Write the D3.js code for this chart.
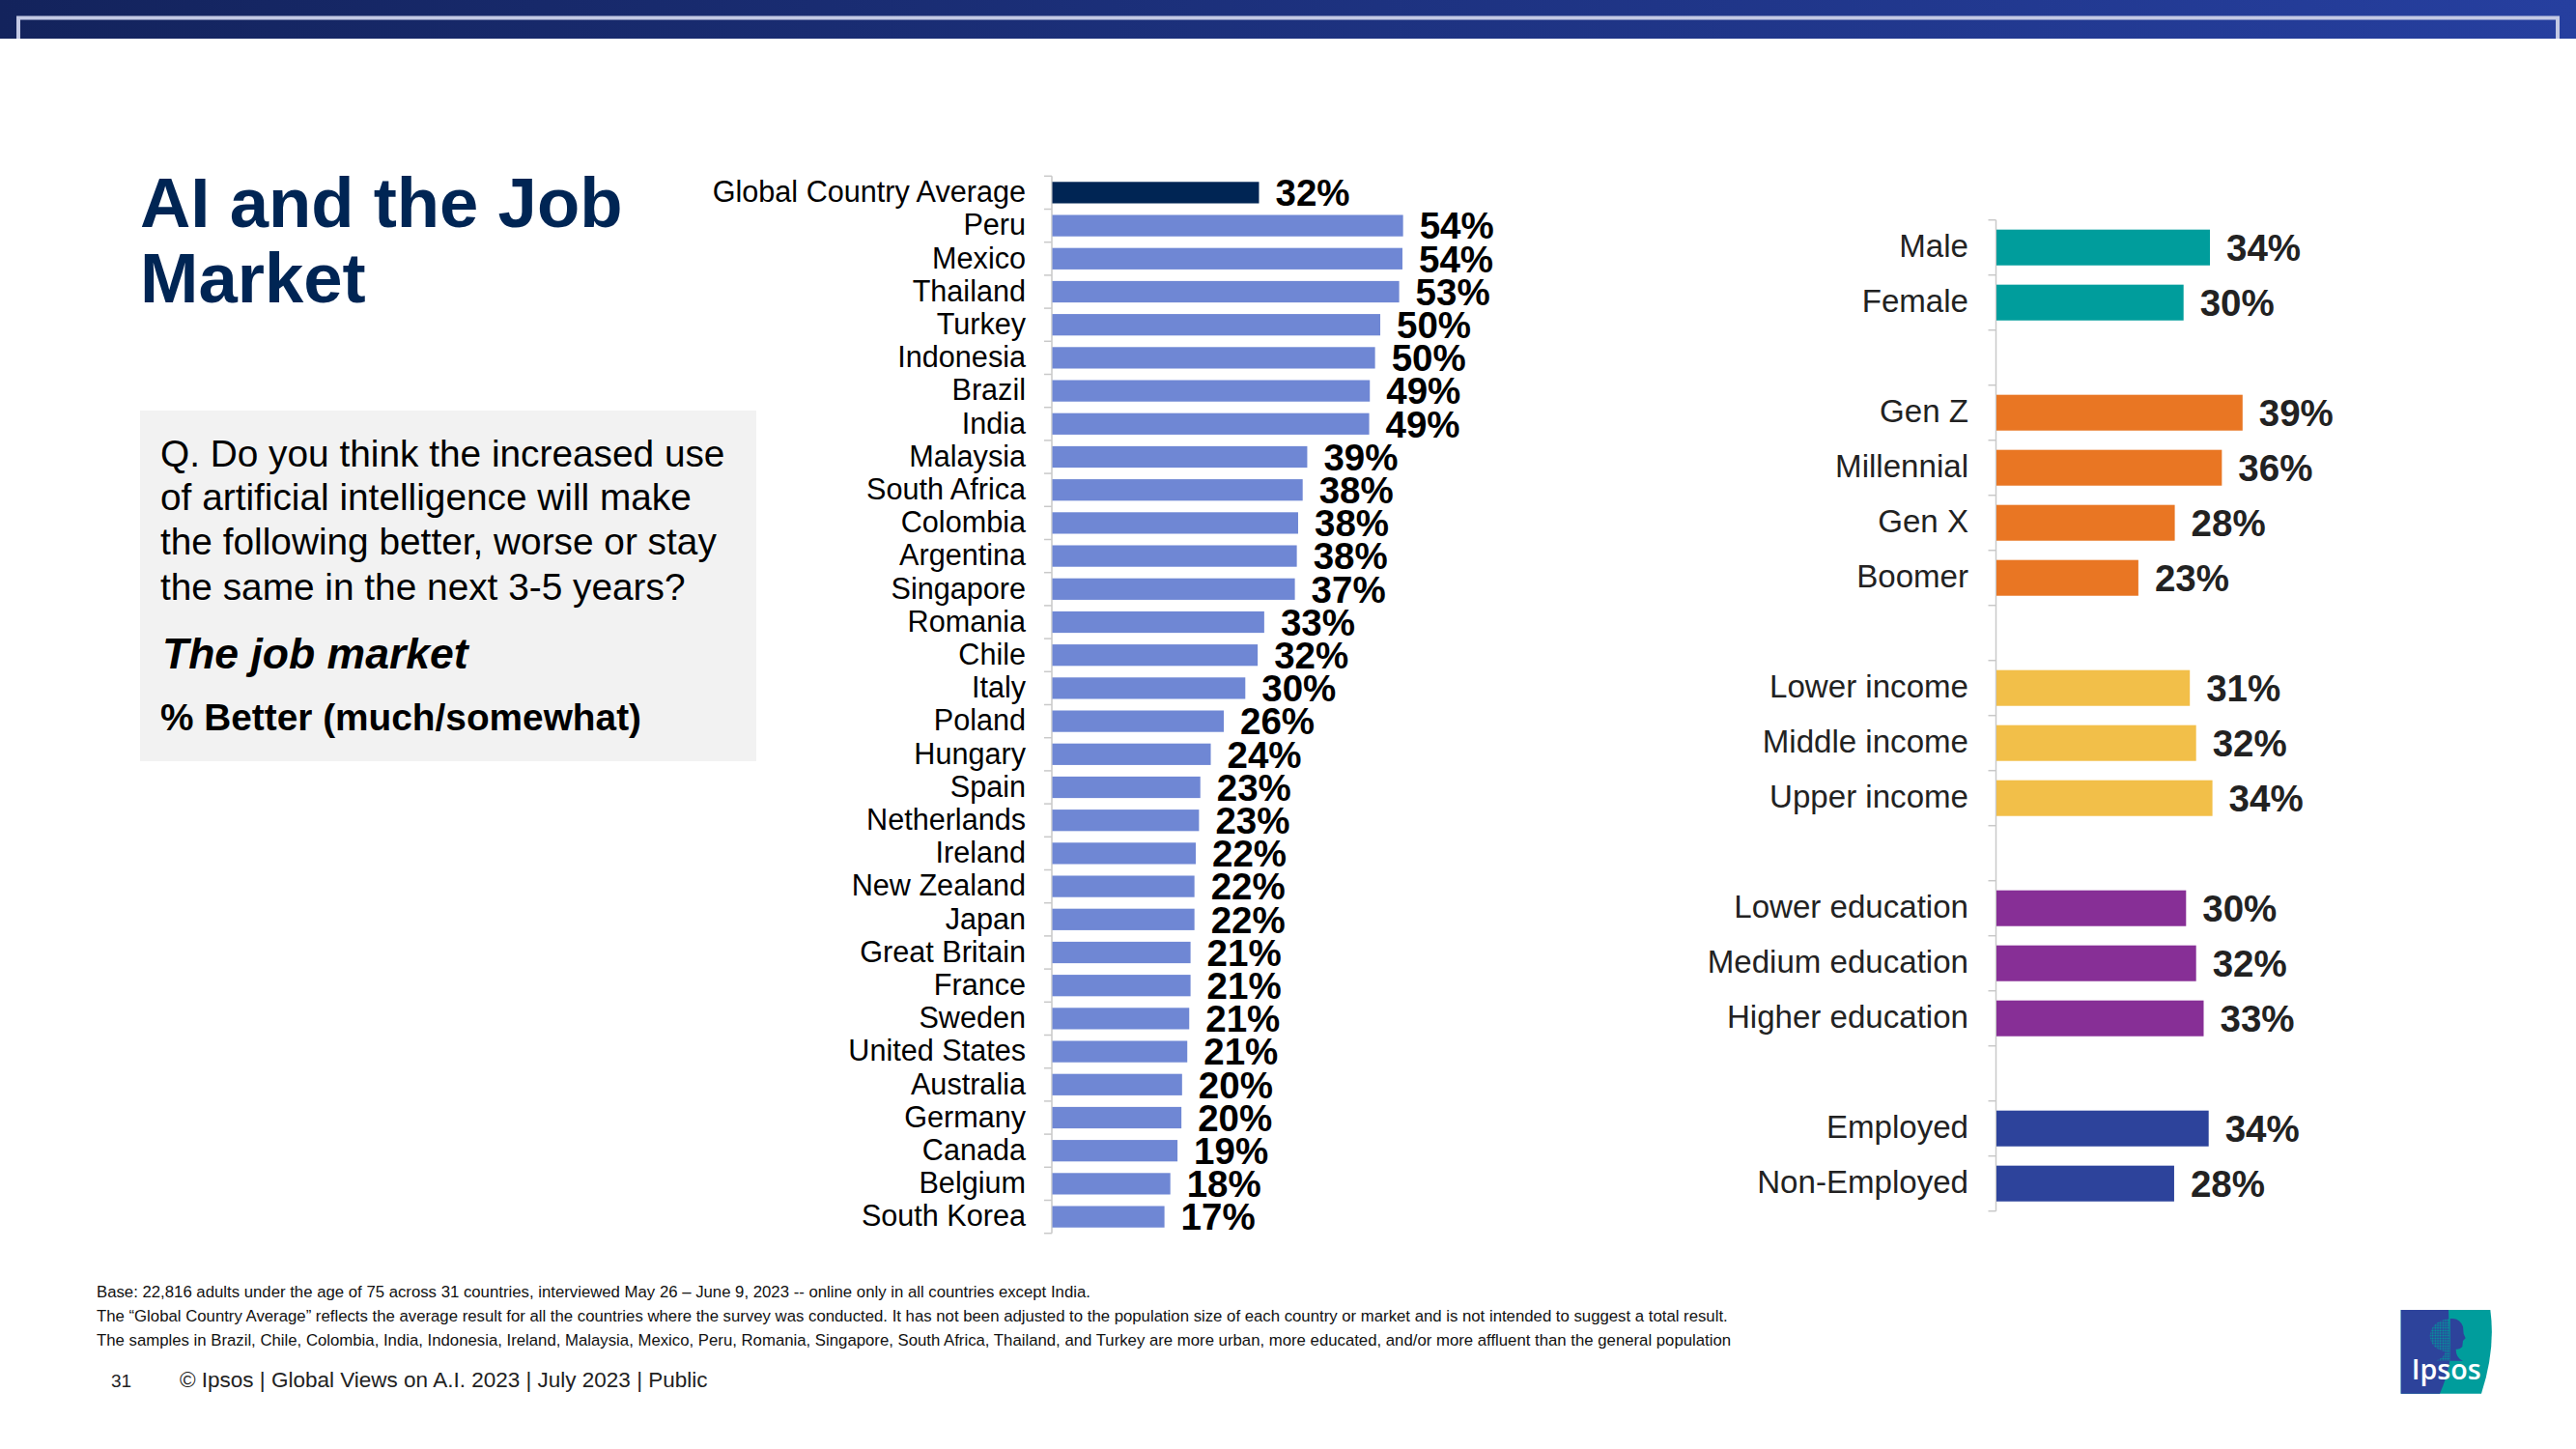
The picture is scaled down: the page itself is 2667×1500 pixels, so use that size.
<!DOCTYPE html>
<html>
<head>
<meta charset="utf-8">
<script src="https://cdn.jsdelivr.net/npm/d3@7"></script>
<style>
  html, body { margin: 0; padding: 0; background: #fff; }
  svg { display: block; }
  text { font-family: "Liberation Sans", Arial, sans-serif; }
</style>
</head>
<body>
<div id="chart"></div>
<script>
// data
var countries = ["Global Country Average", "Peru", "Mexico", "Thailand", "Turkey", "Indonesia", "Brazil", "India",
    "Malaysia", "South Africa", "Colombia", "Argentina", "Singapore", "Romania", "Chile", "Italy", "Poland", "Hungary",
    "Spain", "Netherlands", "Ireland", "New Zealand", "Japan", "Great Britain", "France", "Sweden", "United States",
    "Australia", "Germany", "Canada", "Belgium", "South Korea"];
var countryValues = [31.7, 53.8, 53.7, 53.2, 50.3, 49.5, 48.7, 48.6,
    39.1, 38.4, 37.7, 37.5, 37.2, 32.5, 31.5, 29.6, 26.3, 24.3,
    22.7, 22.5, 22.0, 21.8, 21.8, 21.2, 21.2, 21.0, 20.7,
    19.9, 19.8, 19.2, 18.1, 17.2];

// the empty rows are the gaps between the groups
var demographics = ["Male", "Female", "gap1", "Gen Z", "Millennial", "Gen X", "Boomer", "gap2",
    "Lower income", "Middle income", "Upper income", "gap3",
    "Lower education", "Medium education", "Higher education", "gap4",
    "Employed", "Non-Employed"];
var demographicValues = [34.0, 29.8, null, 39.2, 35.9, 28.4, 22.6, null,
    30.8, 31.8, 34.4, null,
    30.2, 31.8, 33.0, null,
    33.8, 28.3];
var demographicGroups = ["gender", "gender", null, "age", "age", "age", "age", null,
    "income", "income", "income", null,
    "education", "education", "education", null,
    "work", "work"];

var titleLines = ["AI and the Job", "Market"];
var questionLines = ["Q. Do you think the increased use", "of artificial intelligence will make",
    "the following better, worse or stay", "the same in the next 3-5 years?"];
var footnotes = [
    "Base: 22,816 adults under the age of 75 across 31 countries, interviewed May 26 \u2013 June 9, 2023 -- online only in all countries except India.",
    "The \u201CGlobal Country Average\u201D reflects the average result for all the countries where the survey was conducted. It has not been adjusted to the population size of each country or market and is not intended to suggest a total result.",
    "The samples in Brazil, Chile, Colombia, India, Indonesia, Ireland, Malaysia, Mexico, Peru, Romania, Singapore, South Africa, Thailand, and Turkey are more urban, more educated, and/or more affluent than the general population"
];

var navy = "#002554",
    countryBlue = "#6f87d4",
    groupColor = d3.scaleOrdinal()
        .domain(["gender", "age", "income", "education", "work"])
        .range(["#009d9c", "#e97623", "#f2bf49", "#872f96", "#2d439b"]);

var svg = d3.select("#chart").append("svg")
    .attr("width", 2667)
    .attr("height", 1500);

// Top band
var defs = svg.append("defs");
var grad = defs.append("linearGradient").attr("id", "band");
grad.append("stop").attr("offset", "0%").attr("stop-color", "#13235c");
grad.append("stop").attr("offset", "100%").attr("stop-color", "#263f9f");

svg.append("rect").attr("width", 2667).attr("height", 40).attr("fill", "url(#band)");
svg.append("path")
    .attr("d", "M19 40V18.5H2648V40")
    .attr("fill", "none")
    .attr("stroke", "#c3c9e4")
    .attr("stroke-width", 4);

// Title
svg.append("g").selectAll("text")
    .data(titleLines)
    .enter().append("text")
    .attr("x", 145)
    .attr("y", function(d, i) { return 235 + i * 78; })
    .attr("font-size", 72.5)
    .attr("font-weight", "bold")
    .attr("fill", navy)
    .text(function(d) { return d; });

// Question box
svg.append("rect")
    .attr("x", 145).attr("y", 425)
    .attr("width", 638).attr("height", 363)
    .attr("fill", "#f2f2f2");

var questionBaselines = [483, 527.5, 574, 621];

svg.append("g").selectAll("text")
    .data(questionLines)
    .enter().append("text")
    .attr("x", 166)
    .attr("y", function(d, i) { return questionBaselines[i]; })
    .attr("font-size", 38.8)
    .attr("fill", "#000")
    .text(function(d) { return d; });

svg.append("text")
    .attr("x", 168).attr("y", 692)
    .attr("font-size", 44.5)
    .attr("font-weight", "bold")
    .attr("font-style", "italic")
    .text("The job market");

svg.append("text")
    .attr("x", 166).attr("y", 756)
    .attr("font-size", 38.8)
    .attr("font-weight", "bold")
    .text("% Better (much/somewhat)");

// Bar panels
function drawPanel(opts) {
    var x = d3.scaleLinear()
        .domain([0, 100])
        .range([opts.left, opts.left + opts.pxPerPoint * 100]);

    var y = d3.scaleBand()
        .domain(opts.categories)
        .range([opts.top, opts.bottom])
        .paddingInner(0.35)
        .paddingOuter(0.175);

    var g = svg.append("g");

    // labels come from the axis, tick marks sit on the band edges
    var axis = g.append("g")
        .attr("transform", "translate(" + opts.left + ",0)")
        .call(d3.axisLeft(y)
            .tickSize(0)
            .tickPadding(opts.labelGap)
            .tickFormat(function(d) { return d.indexOf("gap") === 0 ? "" : d; }));

    axis.selectAll("text")
        .attr("font-size", opts.labelSize)
        .attr("font-family", "Liberation Sans")
        .attr("fill", opts.labelColor)
        .attr("dy", opts.labelDy);

    axis.select(".domain").remove();

    var edges = d3.range(opts.categories.length + 1).map(function(i) {
        return opts.top + i * y.step();
    });

    g.selectAll("line.tick-mark")
        .data(edges)
        .enter().append("line")
        .attr("class", "tick-mark")
        .attr("x1", opts.left - 8)
        .attr("x2", opts.left)
        .attr("y1", function(d) { return d; })
        .attr("y2", function(d) { return d; })
        .attr("stroke", "#c9c9c9")
        .attr("stroke-width", 1.5);

    g.append("line")
        .attr("x1", opts.left).attr("x2", opts.left)
        .attr("y1", opts.top).attr("y2", opts.bottom)
        .attr("stroke", "#c9c9c9")
        .attr("stroke-width", 1.5);

    var rows = opts.categories.map(function(c, i) {
        return {name: c, value: opts.values[i], index: i};
    }).filter(function(d) { return d.value !== null; });

    g.selectAll("rect.bar")
        .data(rows)
        .enter().append("rect")
        .attr("class", "bar")
        .attr("x", x(0) + 0.5)
        .attr("y", function(d) { return y(d.name); })
        .attr("width", function(d) { return x(d.value) - x(0); })
        .attr("height", y.bandwidth())
        .attr("fill", opts.color);

    g.selectAll("text.value")
        .data(rows)
        .enter().append("text")
        .attr("class", "value")
        .attr("x", function(d) { return x(d.value) + 17.5; })
        .attr("y", function(d) { return y(d.name) + y.bandwidth() / 2; })
        .attr("dy", "0.36em")
        .attr("font-size", opts.valueSize)
        .attr("font-weight", "bold")
        .attr("fill", opts.valueColor)
        .text(function(d) { return Math.round(d.value) + "%"; });
}

drawPanel({
    categories: countries,
    values: countryValues,
    left: 1089,
    top: 182.3,
    bottom: 1276.7,
    pxPerPoint: 6.75,
    labelGap: 27,
    labelSize: 30.6,
    labelColor: "#000",
    labelDy: "0.32em",
    valueSize: 38.5,
    valueColor: "#000",
    color: function(d) { return d.index === 0 ? navy : countryBlue; }
});

drawPanel({
    categories: demographics,
    values: demographicValues,
    left: 2066.5,
    top: 227.7,
    bottom: 1253.7,
    pxPerPoint: 6.5,
    labelGap: 28.5,
    labelSize: 33.1,
    labelColor: "#222",
    labelDy: "0.31em",
    valueSize: 38.5,
    valueColor: "#222",
    color: function(d) { return groupColor(demographicGroups[d.index]); }
});

// Footnotes
svg.append("g").selectAll("text")
    .data(footnotes)
    .enter().append("text")
    .attr("x", 100)
    .attr("y", function(d, i) { return 1343 + i * 25; })
    .attr("font-size", 16.75)
    .attr("fill", "#111")
    .text(function(d) { return d; });

svg.append("text")
    .attr("x", 115).attr("y", 1436)
    .attr("font-size", 19)
    .attr("fill", "#222")
    .text("31");

svg.append("text")
    .attr("x", 186).attr("y", 1436)
    .attr("font-size", 22.5)
    .attr("fill", "#222")
    .text("\u00A9 Ipsos | Global Views on A.I. 2023 | July 2023 | Public");

// Logo
var dots = defs.append("pattern")
    .attr("id", "logo-dots")
    .attr("width", 8).attr("height", 8)
    .attr("patternUnits", "userSpaceOnUse");
dots.append("circle").attr("cx", 4).attr("cy", 4).attr("r", 3).attr("fill", "#009d9c");

var logo = svg.append("g")
    .attr("transform", "translate(2400,1320) scale(0.3333)");

logo.append("path")
    .attr("d", "M257 108H535Q552 230 507 368H257Z")
    .attr("fill", "#009d9c");
logo.append("path")
    .attr("d", "M257 108H405Q408 200 410 262Q400 320 378 368H257Z")
    .attr("fill", "#2d439b");
logo.append("path")
    .attr("d", "M410 135Q440 132 450 160L452 182L458 196L450 204L448 222Q440 232 428 230Q428 258 450 266H365Q392 258 395 238Q350 228 347 190Q350 142 410 135Z")
    .attr("fill", "url(#logo-dots)");
logo.append("path")
    .attr("d", "M410 135Q440 132 450 160L452 182L458 196L450 204L448 222Q440 232 428 230Q428 258 450 266H410Z")
    .attr("fill", "#2d439b");
logo.append("text")
    .attr("x", 290).attr("y", 325)
    .attr("font-size", 86)
    .attr("font-weight", 600)
    .attr("style", "font-family:'Open Sans'")
    .attr("fill", "#fff")
    .text("Ipsos");
</script>
</body>
</html>
